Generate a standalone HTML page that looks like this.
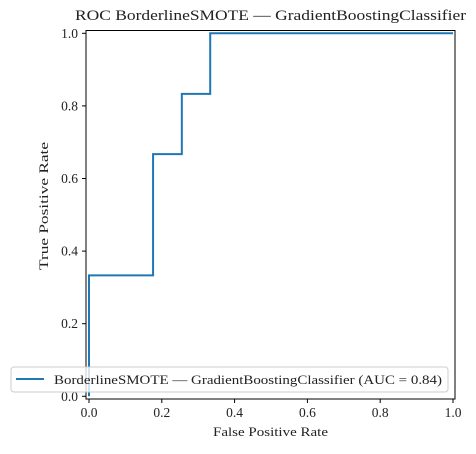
<!DOCTYPE html>
<html><head><meta charset="utf-8"><style>
body{margin:0;background:#fff;}
svg text{font-family:"Liberation Serif","DejaVu Serif",serif;fill:#222;}
</style></head><body>
<svg id="chart" width="476" height="449">
<rect x="0" y="0" width="476" height="449" fill="#fff"/>
<text x="75" y="20" font-size="15" textLength="391" lengthAdjust="spacingAndGlyphs">ROC BorderlineSMOTE — GradientBoostingClassifier</text>
<g id="ticks"></g>
<path id="curve" fill="none" stroke="#1f77b4" stroke-width="2"/>
<rect x="86" y="30.5" width="369" height="368.5" fill="none" stroke="#000" stroke-width="1"/>
<text x="213" y="436" font-size="13" textLength="115" lengthAdjust="spacingAndGlyphs">False Positive Rate</text>
<text x="48" y="206" font-size="13" text-anchor="middle" textLength="128" lengthAdjust="spacingAndGlyphs" transform="rotate(-90 48 206)">True Positive Rate</text>
<g>
<rect x="11" y="367" width="437" height="25" rx="3" fill="#fff" fill-opacity="0.8" stroke="#ccc"/>
<line x1="16" y1="379" x2="44" y2="379" stroke="#1f77b4" stroke-width="2"/>
<text x="54" y="384" font-size="13" textLength="388" lengthAdjust="spacingAndGlyphs">BorderlineSMOTE — GradientBoostingClassifier (AUC = 0.84)</text>
</g>
</svg>
<script>
const fpr=[0,0,0.176,0.176,0.255,0.255,0.333,0.333,1];
const tpr=[0,0.333,0.333,0.667,0.667,0.833,0.833,1,1];
const tickVals=[0,0.2,0.4,0.6,0.8,1.0];
const tickLabels=["0.0","0.2","0.4","0.6","0.8","1.0"];
const xs=v=>89+v*364;
const ys=v=>396.3-v*363;
const NS="http://www.w3.org/2000/svg";
const g=document.getElementById('ticks');
tickVals.forEach((v,i)=>{
 let l=document.createElementNS(NS,'line');
 l.setAttribute('x1',xs(v));l.setAttribute('x2',xs(v));l.setAttribute('y1',399);l.setAttribute('y2',403);l.setAttribute('stroke','#000');
 
 
 g.appendChild(l);
 let t=document.createElementNS(NS,'text');
 t.setAttribute('x',xs(v));t.setAttribute('y',417);t.setAttribute('font-size','13.5');t.setAttribute('text-anchor','middle');
 t.textContent=tickLabels[i];
 
 
 g.appendChild(t);
 let l2=document.createElementNS(NS,'line');
 l2.setAttribute('x1',82);l2.setAttribute('x2',86);l2.setAttribute('y1',ys(v));l2.setAttribute('y2',ys(v));l2.setAttribute('stroke','#000');
 
 
 g.appendChild(l2);
 let t2=document.createElementNS(NS,'text');
 t2.setAttribute('x',78);t2.setAttribute('y',ys(v)+4.5);t2.setAttribute('font-size','13.5');t2.setAttribute('text-anchor','end');
 t2.textContent=tickLabels[i];
 
 
 g.appendChild(t2);
});
document.getElementById('curve').setAttribute('d',fpr.map((f,i)=>(i?'L':'M')+xs(f)+','+ys(tpr[i])).join(' '));
</script>
</body></html>
